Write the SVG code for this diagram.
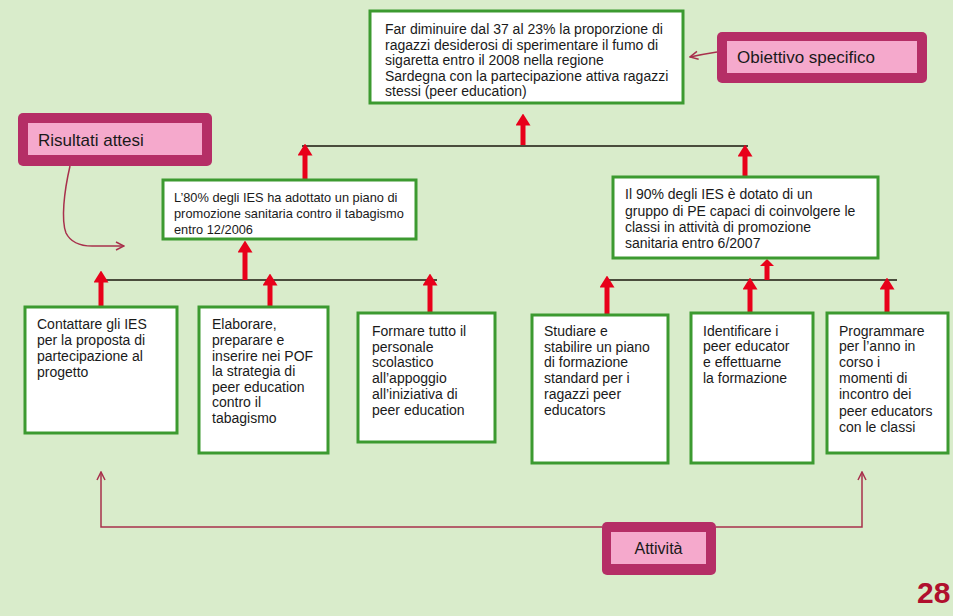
<svg xmlns="http://www.w3.org/2000/svg" width="953" height="616" viewBox="0 0 953 616">
  <style>
    .box { fill: #ffffff; stroke: #3c9a30; stroke-width: 3; }
    .txt { font-family: "Liberation Sans", Arial, sans-serif; font-size: 14px; fill: #1a1a1a; }
    .txt.tight { font-size: 12.8px; }
    .tagOuter { fill: #b52e66; }
    .tagInner { fill: #f5a9cc; }
    .tag { font-family: "Liberation Sans", Arial, sans-serif; font-size: 17px; fill: #1a1a1a; }
    .link { stroke: #4a4c3c; stroke-width: 2; fill: none; }
    .up { stroke: #e8001a; stroke-width: 5; fill: none; marker-end: url(#redHead); }
    .note { stroke: #a8304c; stroke-width: 1.5; fill: none; marker-end: url(#openHead); }
  </style>
  <defs>
    <marker id="redHead" viewBox="0 0 12 15" markerWidth="12" markerHeight="15" refX="0.5" refY="7.5" orient="auto" markerUnits="userSpaceOnUse">
      <path d="M0,0 L12,7.5 L0,15 Z" fill="#e8001a"/>
    </marker>
    <marker id="openHead" viewBox="0 0 10 10" markerWidth="10" markerHeight="10" refX="9" refY="5" orient="auto" markerUnits="userSpaceOnUse">
      <path d="M1,1 L9,5 L1,9" fill="none" stroke="#a8304c" stroke-width="1.5"/>
    </marker>
  </defs>

  <rect width="953" height="616" fill="#d9eccb"/>

  <!-- connectors -->
  <g id="connectors">
    <!-- top tier -->
    <line class="link" x1="302" y1="146" x2="748" y2="146"/>
    <line class="up" x1="523" y1="145" x2="523" y2="125"/>
    <line class="up" x1="305" y1="180" x2="305" y2="155"/>
    <line class="up" x1="745" y1="177" x2="745" y2="156"/>
    <!-- left results tier -->
    <line class="link" x1="100" y1="280" x2="437" y2="280"/>
    <line class="up" x1="245" y1="280" x2="245" y2="252"/>
    <line class="up" x1="101" y1="307" x2="101" y2="282"/>
    <line class="up" x1="270" y1="307" x2="270" y2="285"/>
    <line class="up" x1="430" y1="313" x2="430" y2="285"/>
    <!-- right results tier -->
    <line class="link" x1="605" y1="280" x2="897" y2="280"/>
    <line x1="767" y1="280" x2="767" y2="264" stroke="#e8001a" stroke-width="5"/>
    <polygon points="760,266 767,259 774,266" fill="#e8001a"/>
    <line class="up" x1="607" y1="315" x2="607" y2="287"/>
    <line class="up" x1="750" y1="313" x2="750" y2="289"/>
    <line class="up" x1="887" y1="313" x2="887" y2="289"/>
    <!-- callout pointers -->
    <path class="note" d="M717,52 Q704,54 690,57"/>
    <path class="note" d="M70,166 C64,192 61,220 66,233 Q73,247 95,246 L124,246"/>
    <polyline class="note" points="602,527 101,527 101,472"/>
    <polyline class="note" points="716,527 862,527 862,472"/>
  </g>

  <!-- specific objective -->
  <g id="obiettivo">
    <rect class="box" x="370" y="11" width="313" height="92"/>
    <text class="txt">
      <tspan x="385" y="34">Far diminuire dal 37 al 23% la proporzione di</tspan>
      <tspan x="385" y="50">ragazzi desiderosi di sperimentare il fumo di</tspan>
      <tspan x="385" y="65">sigaretta entro il 2008 nella regione</tspan>
      <tspan x="385" y="81">Sardegna con la partecipazione attiva ragazzi</tspan>
      <tspan x="385" y="96">stessi (peer education)</tspan>
    </text>
  </g>

  <g id="label-obiettivo">
    <rect class="tagOuter" x="717" y="32" width="210" height="51" rx="5"/>
    <rect class="tagInner" x="727" y="41" width="190" height="32"/>
    <text class="tag" x="737" y="63">Obiettivo specifico</text>
  </g>

  <g id="label-risultati">
    <rect class="tagOuter" x="18" y="113" width="194" height="53" rx="5"/>
    <rect class="tagInner" x="28" y="123" width="174" height="32"/>
    <text class="tag" x="38" y="146">Risultati attesi</text>
  </g>

  <!-- expected results -->
  <g id="risultato-1">
    <rect class="box" x="163" y="180" width="253" height="59"/>
    <text class="txt tight">
      <tspan x="174" y="202">L’80% degli IES ha adottato un piano di</tspan>
      <tspan x="174" y="218">promozione sanitaria contro il tabagismo</tspan>
      <tspan x="174" y="234">entro 12/2006</tspan>
    </text>
  </g>

  <g id="risultato-2">
    <rect class="box" x="613" y="177" width="265" height="81"/>
    <text class="txt">
      <tspan x="625" y="199">Il 90% degli IES è dotato di  un</tspan>
      <tspan x="625" y="216">gruppo di PE capaci di coinvolgere le</tspan>
      <tspan x="625" y="232">classi in attività di promozione</tspan>
      <tspan x="625" y="248">sanitaria entro 6/2007</tspan>
    </text>
  </g>

  <!-- activities -->
  <g id="attivita-1">
    <rect class="box" x="25" y="307" width="152" height="126"/>
    <text class="txt">
      <tspan x="37" y="329">Contattare gli IES</tspan>
      <tspan x="37" y="345">per la proposta di</tspan>
      <tspan x="37" y="361">partecipazione al</tspan>
      <tspan x="37" y="377">progetto</tspan>
    </text>
  </g>

  <g id="attivita-2">
    <rect class="box" x="199" y="307" width="129" height="146"/>
    <text class="txt">
      <tspan x="212" y="329">Elaborare,</tspan>
      <tspan x="212" y="345">preparare e</tspan>
      <tspan x="212" y="361">inserire nei POF</tspan>
      <tspan x="212" y="376">la strategia di</tspan>
      <tspan x="212" y="392">peer education</tspan>
      <tspan x="212" y="407">contro il</tspan>
      <tspan x="212" y="423">tabagismo</tspan>
    </text>
  </g>

  <g id="attivita-3">
    <rect class="box" x="358" y="313" width="137" height="129"/>
    <text class="txt">
      <tspan x="372" y="336">Formare tutto il</tspan>
      <tspan x="372" y="352">personale</tspan>
      <tspan x="372" y="367">scolastico</tspan>
      <tspan x="372" y="383">all’appoggio</tspan>
      <tspan x="372" y="399">all’iniziativa di</tspan>
      <tspan x="372" y="415">peer education</tspan>
    </text>
  </g>

  <g id="attivita-4">
    <rect class="box" x="532" y="315" width="136" height="148"/>
    <text class="txt">
      <tspan x="544" y="336">Studiare e</tspan>
      <tspan x="544" y="352">stabilire un piano</tspan>
      <tspan x="544" y="367">di formazione</tspan>
      <tspan x="544" y="383">standard per i</tspan>
      <tspan x="544" y="399">ragazzi peer</tspan>
      <tspan x="544" y="415">educators</tspan>
    </text>
  </g>

  <g id="attivita-5">
    <rect class="box" x="691" y="313" width="122" height="150"/>
    <text class="txt">
      <tspan x="703" y="336">Identificare i</tspan>
      <tspan x="703" y="351">peer educator</tspan>
      <tspan x="703" y="367">e effettuarne</tspan>
      <tspan x="703" y="383">la formazione</tspan>
    </text>
  </g>

  <g id="attivita-6">
    <rect class="box" x="827" y="313" width="121" height="140"/>
    <text class="txt">
      <tspan x="839" y="336">Programmare</tspan>
      <tspan x="839" y="351">per l’anno in</tspan>
      <tspan x="839" y="367">corso i</tspan>
      <tspan x="839" y="383">momenti di</tspan>
      <tspan x="839" y="399">incontro dei</tspan>
      <tspan x="839" y="416">peer educators</tspan>
      <tspan x="839" y="432">con le classi</tspan>
    </text>
  </g>

  <g id="label-attivita">
    <rect class="tagOuter" x="602" y="522" width="114" height="53" rx="5"/>
    <rect class="tagInner" x="611" y="532" width="95" height="32"/>
    <text class="tag" x="658.5" y="554" text-anchor="middle" style="font-size:16px">Attività</text>
  </g>

  <!-- page number -->
  <text x="917" y="603" font-family="Liberation Sans, Arial, sans-serif" font-size="30" font-weight="bold" fill="#b0102e">28</text>
</svg>
